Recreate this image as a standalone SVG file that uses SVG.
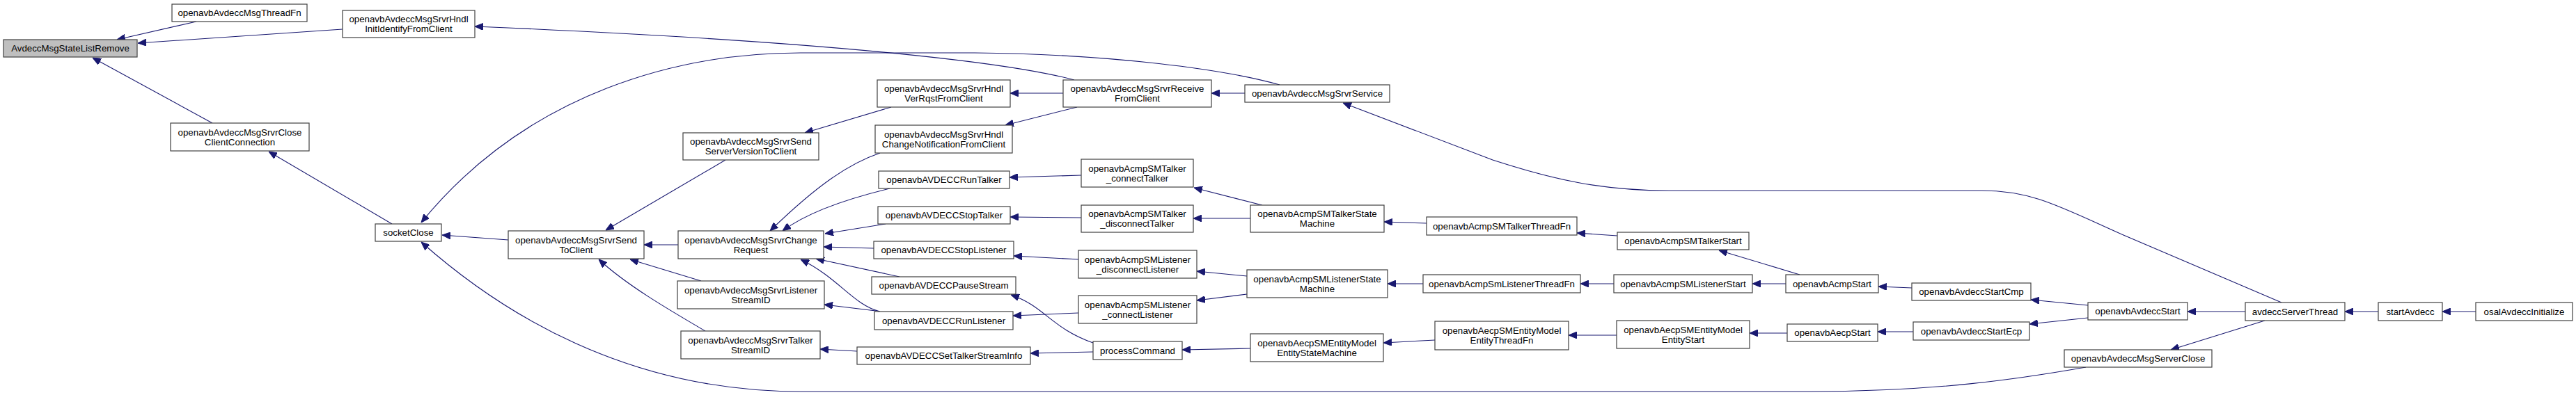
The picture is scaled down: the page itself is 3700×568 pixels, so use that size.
<svg xmlns="http://www.w3.org/2000/svg" width="3700" height="568" viewBox="0 0 3700 568">
<style>
.node rect{fill:#ffffff;stroke:#404040;stroke-width:1.2}
.node.root rect{fill:#bfbfbf;stroke:#404040}
.node text{font-family:"Liberation Sans",Arial,Helvetica,sans-serif;font-size:13.3px;fill:#000;text-anchor:middle}
.edges path{fill:none;stroke:#191970;stroke-width:1.1;marker-end:url(#arr)}
</style>
<defs>
<marker id="arr" viewBox="0 0 12 10" refX="12" refY="5" markerWidth="12" markerHeight="10" markerUnits="userSpaceOnUse" orient="auto">
<path d="M0,0 L12,5 L0,10 z" fill="#191970" stroke="#191970" stroke-width="1"/>
</marker>
</defs>
<rect x="0" y="0" width="3700" height="568" fill="#ffffff"/>
<g class="edges" id="edges">
<path d="M282,31 L168,57"/>
<path d="M492,42 L198,62"/>
<path d="M305,177 L133,83"/>
<path d="M563,322 L386,218"/>
<path d="M1543,115 C1450,90 1200,60 682,38"/>
<path d="M1838,122 C1760,100 1600,78 1400,76 L1150,76 C980,76 760,130 605,320"/>
<path d="M730,345 L635,338"/>
<path d="M2996,528 C2900,545 2780,563 2600,563 L1150,563 C900,563 720,450 605,348"/>
<path d="M1042,230 L870,331"/>
<path d="M974,352 L925,352"/>
<path d="M1007,404 L905,373"/>
<path d="M1013,476 C960,445 900,410 860,373"/>
<path d="M1280,154 L1156,191"/>
<path d="M1527,134 L1451,134"/>
<path d="M1547,154 L1444,180"/>
<path d="M1264,220 C1220,235 1175,265 1106,332"/>
<path d="M1278,271 C1220,285 1160,305 1124,332"/>
<path d="M1272,322 L1185,336"/>
<path d="M1255,357 L1183,355"/>
<path d="M1292,398 L1172,372"/>
<path d="M1264,448 C1225,438 1205,400 1150,373"/>
<path d="M1258,447 L1184,438"/>
<path d="M1231,505 L1178,502"/>
<path d="M1553,252 L1450,255"/>
<path d="M1553,313 L1451,312"/>
<path d="M1549,373 L1456,368"/>
<path d="M1549,450 L1455,454"/>
<path d="M1570,493 C1510,472 1500,440 1452,424"/>
<path d="M1570,506 L1480,508"/>
<path d="M1813,295 L1715,270"/>
<path d="M1796,314 L1714,314"/>
<path d="M1791,397 L1719,390"/>
<path d="M1791,423 L1719,432"/>
<path d="M1796,501 L1698,503"/>
<path d="M1788,134 L1740,134"/>
<path d="M2049,321 L1988,319"/>
<path d="M2044,408 L1993,408"/>
<path d="M2061,489 L1987,493"/>
<path d="M2323,339 L2265,335"/>
<path d="M2318,408 L2270,408"/>
<path d="M2322,482 L2253,482"/>
<path d="M2585,395 L2469,360"/>
<path d="M2565,408 L2517,408"/>
<path d="M2567,479 L2513,479"/>
<path d="M2746,414 L2698,412"/>
<path d="M2748,477 L2697,477"/>
<path d="M2999,439 L2917,431"/>
<path d="M2999,457 L2915,466"/>
<path d="M3225,448 L3142,448"/>
<path d="M3253,461 L3118,503"/>
<path d="M3277,435 L3050,338 C2960,298 2920,274 2846,274 L2397,274 C2300,274 2230,258 2144,230 L1929,148"/>
<path d="M3416,448 L3368,448"/>
<path d="M3556,448 L3508,448"/>
</g>
<g id="n0" class="node root"><rect x="5" y="57" width="192" height="25"/><text x="101" y="74">AvdeccMsgStateListRemove</text></g>
<g id="n1" class="node"><rect x="247" y="6" width="194" height="25"/><text x="344" y="23">openavbAvdeccMsgThreadFn</text></g>
<g id="n2" class="node"><rect x="492" y="15" width="190" height="39"/><text x="587" y="32">openavbAvdeccMsgSrvrHndl<tspan x="587" y="46">InitIdentifyFromClient</tspan></text></g>
<g id="n3" class="node"><rect x="245" y="177" width="199" height="40"/><text x="344.5" y="194.5">openavbAvdeccMsgSrvrClose<tspan x="344.5" y="208.5">ClientConnection</tspan></text></g>
<g id="n4" class="node"><rect x="539" y="322" width="95" height="25"/><text x="586.5" y="339">socketClose</text></g>
<g id="n5" class="node"><rect x="730" y="332" width="195" height="40"/><text x="827.5" y="349.5">openavbAvdeccMsgSrvrSend<tspan x="827.5" y="363.5">ToClient</tspan></text></g>
<g id="n6" class="node"><rect x="981" y="191" width="195" height="39"/><text x="1078.5" y="208">openavbAvdeccMsgSrvrSend<tspan x="1078.5" y="222">ServerVersionToClient</tspan></text></g>
<g id="n7" class="node"><rect x="974" y="332" width="209" height="40"/><text x="1078.5" y="349.5">openavbAvdeccMsgSrvrChange<tspan x="1078.5" y="363.5">Request</tspan></text></g>
<g id="n8" class="node"><rect x="973" y="404" width="211" height="40"/><text x="1078.5" y="421.5">openavbAvdeccMsgSrvrListener<tspan x="1078.5" y="435.5">StreamID</tspan></text></g>
<g id="n9" class="node"><rect x="978" y="476" width="200" height="40"/><text x="1078" y="493.5">openavbAvdeccMsgSrvrTalker<tspan x="1078" y="507.5">StreamID</tspan></text></g>
<g id="n10" class="node"><rect x="1260" y="115" width="191" height="39"/><text x="1355.5" y="132">openavbAvdeccMsgSrvrHndl<tspan x="1355.5" y="146">VerRqstFromClient</tspan></text></g>
<g id="n11" class="node"><rect x="1257" y="180" width="197" height="40"/><text x="1355.5" y="197.5">openavbAvdeccMsgSrvrHndl<tspan x="1355.5" y="211.5">ChangeNotificationFromClient</tspan></text></g>
<g id="n12" class="node"><rect x="1262" y="246" width="188" height="25"/><text x="1356" y="263">openavbAVDECCRunTalker</text></g>
<g id="n13" class="node"><rect x="1261" y="297" width="190" height="25"/><text x="1356" y="314">openavbAVDECCStopTalker</text></g>
<g id="n14" class="node"><rect x="1255" y="347" width="201" height="25"/><text x="1355.5" y="364">openavbAVDECCStopListener</text></g>
<g id="n15" class="node"><rect x="1252" y="398" width="207" height="25"/><text x="1355.5" y="415">openavbAVDECCPauseStream</text></g>
<g id="n16" class="node"><rect x="1256" y="448" width="199" height="26"/><text x="1355.5" y="465.5">openavbAVDECCRunListener</text></g>
<g id="n17" class="node"><rect x="1231" y="499" width="249" height="25"/><text x="1355.5" y="516">openavbAVDECCSetTalkerStreamInfo</text></g>
<g id="n18" class="node"><rect x="1527" y="115" width="213" height="39"/><text x="1633.5" y="132">openavbAvdeccMsgSrvrReceive<tspan x="1633.5" y="146">FromClient</tspan></text></g>
<g id="n19" class="node"><rect x="1553" y="229" width="161" height="40"/><text x="1633.5" y="246.5">openavbAcmpSMTalker<tspan x="1633.5" y="260.5">_connectTalker</tspan></text></g>
<g id="n20" class="node"><rect x="1553" y="295" width="161" height="39"/><text x="1633.5" y="312">openavbAcmpSMTalker<tspan x="1633.5" y="326">_disconnectTalker</tspan></text></g>
<g id="n21" class="node"><rect x="1549" y="360" width="170" height="40"/><text x="1634" y="377.5">openavbAcmpSMListener<tspan x="1634" y="391.5">_disconnectListener</tspan></text></g>
<g id="n22" class="node"><rect x="1549" y="425" width="170" height="40"/><text x="1634" y="442.5">openavbAcmpSMListener<tspan x="1634" y="456.5">_connectListener</tspan></text></g>
<g id="n23" class="node"><rect x="1570" y="491" width="128" height="26"/><text x="1634" y="508.5">processCommand</text></g>
<g id="n24" class="node"><rect x="1788" y="122" width="208" height="25"/><text x="1892" y="139">openavbAvdeccMsgSrvrService</text></g>
<g id="n25" class="node"><rect x="1796" y="295" width="192" height="39"/><text x="1892" y="312">openavbAcmpSMTalkerState<tspan x="1892" y="326">Machine</tspan></text></g>
<g id="n26" class="node"><rect x="1791" y="388" width="202" height="40"/><text x="1892" y="405.5">openavbAcmpSMListenerState<tspan x="1892" y="419.5">Machine</tspan></text></g>
<g id="n27" class="node"><rect x="1796" y="480" width="191" height="40"/><text x="1891.5" y="497.5">openavbAecpSMEntityModel<tspan x="1891.5" y="511.5">EntityStateMachine</tspan></text></g>
<g id="n28" class="node"><rect x="2049" y="312" width="216" height="26"/><text x="2157" y="329.5">openavbAcmpSMTalkerThreadFn</text></g>
<g id="n29" class="node"><rect x="2044" y="395" width="226" height="26"/><text x="2157" y="412.5">openavbAcmpSmListenerThreadFn</text></g>
<g id="n30" class="node"><rect x="2061" y="462" width="192" height="41"/><text x="2157" y="480">openavbAecpSMEntityModel<tspan x="2157" y="494">EntityThreadFn</tspan></text></g>
<g id="n31" class="node"><rect x="2323" y="334" width="189" height="25"/><text x="2417.5" y="351">openavbAcmpSMTalkerStart</text></g>
<g id="n32" class="node"><rect x="2318" y="395" width="199" height="26"/><text x="2417.5" y="412.5">openavbAcmpSMListenerStart</text></g>
<g id="n33" class="node"><rect x="2322" y="461" width="191" height="40"/><text x="2417.5" y="478.5">openavbAecpSMEntityModel<tspan x="2417.5" y="492.5">EntityStart</tspan></text></g>
<g id="n34" class="node"><rect x="2565" y="395" width="133" height="26"/><text x="2631.5" y="412.5">openavbAcmpStart</text></g>
<g id="n35" class="node"><rect x="2567" y="466" width="130" height="25"/><text x="2632" y="483">openavbAecpStart</text></g>
<g id="n36" class="node"><rect x="2746" y="407" width="171" height="25"/><text x="2831.5" y="424">openavbAvdeccStartCmp</text></g>
<g id="n37" class="node"><rect x="2748" y="463" width="167" height="26"/><text x="2831.5" y="480.5">openavbAvdeccStartEcp</text></g>
<g id="n38" class="node"><rect x="2999" y="435" width="143" height="25"/><text x="3070.5" y="452">openavbAvdeccStart</text></g>
<g id="n39" class="node"><rect x="2965" y="503" width="212" height="25"/><text x="3071" y="520">openavbAvdeccMsgServerClose</text></g>
<g id="n40" class="node"><rect x="3225" y="435" width="143" height="26"/><text x="3296.5" y="452.5">avdeccServerThread</text></g>
<g id="n41" class="node"><rect x="3416" y="435" width="92" height="26"/><text x="3462" y="452.5">startAvdecc</text></g>
<g id="n42" class="node"><rect x="3556" y="435" width="139" height="26"/><text x="3625.5" y="452.5">osalAvdeccInitialize</text></g>
</svg>
